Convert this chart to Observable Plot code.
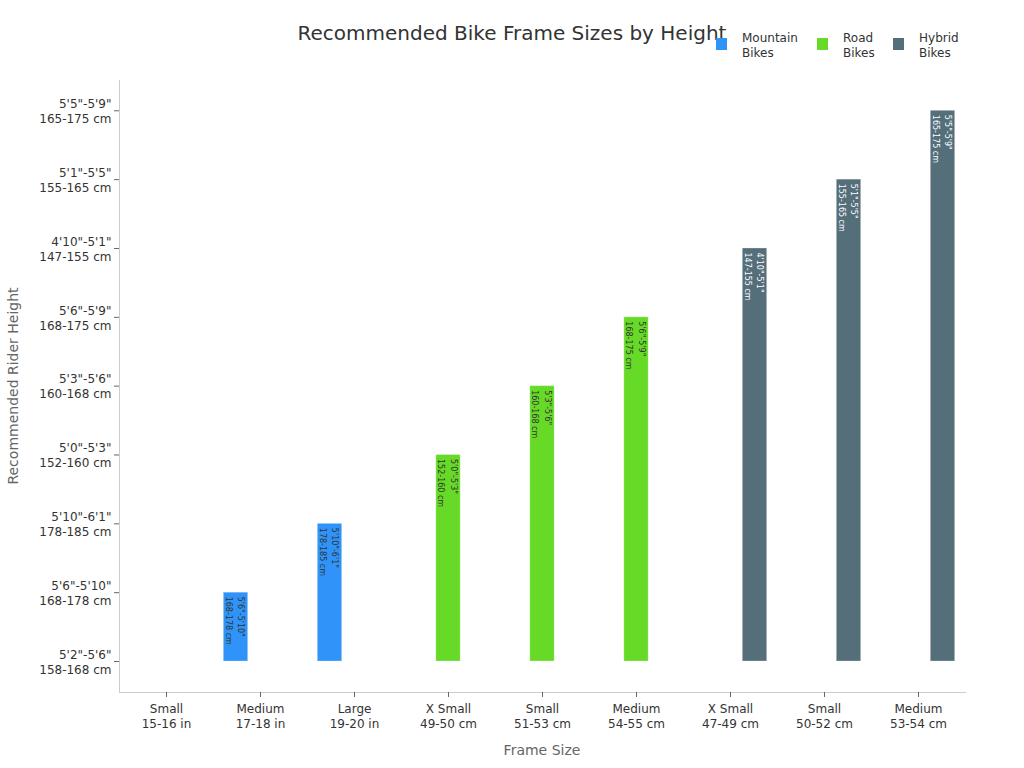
<!DOCTYPE html>
<html><head><meta charset="utf-8">
<script src="https://cdn.jsdelivr.net/npm/d3@7"></script>
<script src="https://cdn.jsdelivr.net/npm/@observablehq/plot@0.6"></script>
<style>
body{margin:0;background:#fff;font-family:"DejaVu Sans",sans-serif;}
#wrap{position:relative;width:1024px;height:768px;overflow:hidden;}
#wrap svg{position:absolute;left:0;top:0;}
.title{position:absolute;left:0;width:1024px;top:21px;text-align:center;font-size:20px;line-height:24px;color:#333;}
.xtitle{position:absolute;left:119px;width:846px;top:741px;text-align:center;font-size:14px;line-height:18px;color:#666;}
.ytitle{position:absolute;left:13px;top:386px;font-size:14px;line-height:18px;color:#666;white-space:nowrap;transform:translate(-50%,-50%) rotate(-90deg);}
.legend{position:absolute;top:29px;left:0;font-size:12px;line-height:15px;color:#333;}
.legend .item{position:absolute;top:0;}
.legend .sw{position:absolute;top:9px;width:11px;height:12px;}
.legend .lab{position:absolute;top:2px;white-space:pre;}
</style></head><body><div id="wrap"></div>
<script>
// ---- data ----
const frameSizes = ["Small\n15-16 in","Medium\n17-18 in","Large\n19-20 in","X Small\n49-50 cm","Small\n51-53 cm","Medium\n54-55 cm","X Small\n47-49 cm","Small\n50-52 cm","Medium\n53-54 cm"];
const bikeTypes = ["Mountain\nBikes","Road\nBikes","Hybrid\nBikes"];
const barType = ["Mountain\nBikes","Mountain\nBikes","Mountain\nBikes","Road\nBikes","Road\nBikes","Road\nBikes","Hybrid\nBikes","Hybrid\nBikes","Hybrid\nBikes"];
const heightTicks = ["5'2\"-5'6\"\n158-168 cm","5'6\"-5'10\"\n168-178 cm","5'10\"-6'1\"\n178-185 cm","5'0\"-5'3\"\n152-160 cm","5'3\"-5'6\"\n160-168 cm","5'6\"-5'9\"\n168-175 cm","4'10\"-5'1\"\n147-155 cm","5'1\"-5'5\"\n155-165 cm","5'5\"-5'9\"\n165-175 cm"];
const riderHeight = ["5'2\"-5'6\"\n158-168 cm","5'6\"-5'10\"\n168-178 cm","5'10\"-6'1\"\n178-185 cm","5'0\"-5'3\"\n152-160 cm","5'3\"-5'6\"\n160-168 cm","5'6\"-5'9\"\n168-175 cm","4'10\"-5'1\"\n147-155 cm","5'1\"-5'5\"\n155-165 cm","5'5\"-5'9\"\n165-175 cm"];
const typeColors = ["#2F93F7","#66DA26","#546E7A"];
const labelColors = ["#333333","#333333","#ffffff"];

// ---- build ----
const rows = frameSizes.map((f, i) => ({frame: f, type: barType[i], height: riderHeight[i], level: heightTicks.indexOf(riderHeight[i])}));
const offsets = [-24.5, 0, 24.5];
const marks = [];
bikeTypes.forEach((t, k) => {
  const sub = rows.filter(d => d.type === t && d.level > 0);
  marks.push(Plot.barY(sub, {x: "frame", y1: 0, y2: "level", fill: typeColors[k], dx: offsets[k], insetLeft: 34.8, insetRight: 34.8, stroke: "#ffffff", strokeOpacity: 0.3, strokeWidth: 1}));
  marks.push(Plot.text(sub, {x: "frame", y: "level", text: "height", rotate: 90, textAnchor: "start", lineAnchor: "middle", dx: offsets[k], dy: 4, fontSize: 8, lineHeight: 1.58, fill: labelColors[k]}));
});

const chart = Plot.plot({
  width: 1024, height: 768,
  marginLeft: 119, marginRight: 59, marginTop: 80, marginBottom: 76,
  style: {fontFamily: "DejaVu Sans", color: "#333", background: "#fff"},
  x: {type: "band", domain: frameSizes, padding: 0},
  y: {type: "linear", domain: [-0.45, 8.44]},
  marks: [
    Plot.frame({anchor: "left", stroke: "#cccccc"}),
    Plot.frame({anchor: "bottom", stroke: "#cccccc"}),
    ...marks,
    Plot.axisX({label: null, tickSize: 5, tickPadding: 5, fontSize: 12, lineHeight: 1.25, stroke: "#666"}),
    Plot.axisY({label: null, ticks: heightTicks.map((_, i) => i), tickFormat: i => heightTicks[i], tickSize: 5, tickPadding: 3, fontSize: 12, lineHeight: 1.25, stroke: "#666"})
  ]
});
const wrap = document.getElementById("wrap");
wrap.appendChild(chart);

const title = document.createElement("div");
title.className = "title"; title.textContent = "Recommended Bike Frame Sizes by Height";
wrap.appendChild(title);
const xt = document.createElement("div"); xt.className = "xtitle"; xt.textContent = "Frame Size"; wrap.appendChild(xt);
const yt = document.createElement("div"); yt.className = "ytitle"; yt.textContent = "Recommended Rider Height"; wrap.appendChild(yt);

const legend = document.createElement("div"); legend.className = "legend";
const legX = [716, 817, 893];
bikeTypes.forEach((t, k) => {
  const it = document.createElement("div"); it.className = "item"; it.style.left = legX[k] + "px";
  const sw = document.createElement("div"); sw.className = "sw"; sw.style.background = typeColors[k]; sw.style.left = "0px";
  const lb = document.createElement("div"); lb.className = "lab"; lb.style.left = "26px"; lb.textContent = t;
  it.appendChild(sw); it.appendChild(lb); legend.appendChild(it);
});
wrap.appendChild(legend);
</script>
</body></html>
